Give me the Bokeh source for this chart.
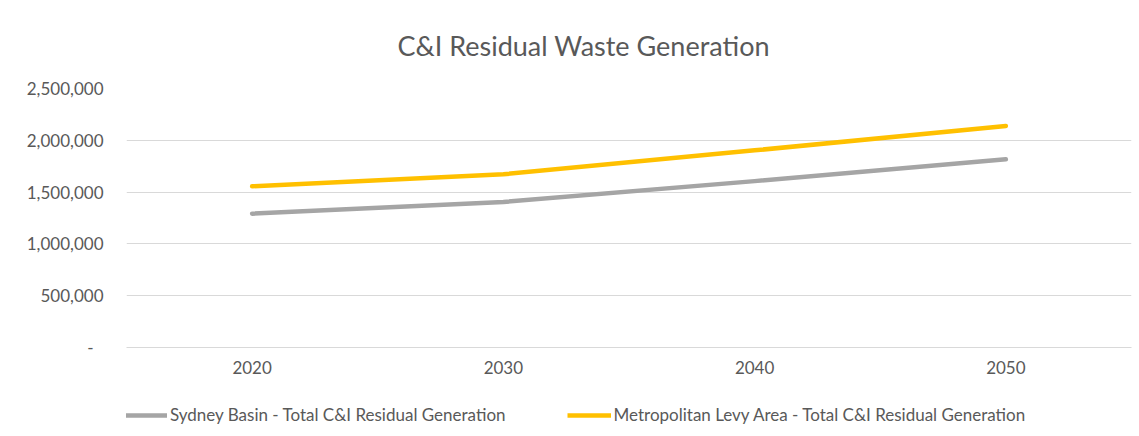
from bokeh.plotting import figure
from bokeh.layouts import column
from bokeh.models import Range1d, FactorRange, Legend, LegendItem, NumeralTickFormatter, ColumnDataSource
from bokeh.embed import file_html
from bokeh.resources import INLINE

years = ["2020", "2030", "2040", "2050"]
sydney_basin = [1292000, 1405000, 1606000, 1816000]
metro_levy = [1556000, 1672000, 1903000, 2139000]
y_ticks = [0, 500000, 1000000, 1500000, 2000000, 2500000]
title_text = "C&I Residual Waste Generation"
series_names = ["Sydney Basin - Total C&I Residual Generation",
                "Metropolitan Levy Area - Total C&I Residual Generation"]

FONT = "Lato"
TXT = "#595959"
GRID = "#D9D9D9"
C_SB = "#A5A5A5"
C_ML = "#FFC000"

src = ColumnDataSource(dict(year=years, sb=sydney_basin, ml=metro_levy))

p = figure(frame_width=1005, frame_height=259,
           x_range=FactorRange(factors=years, range_padding=0),
           y_range=Range1d(0, 2500000),
           output_backend="svg", toolbar_location=None,
           min_border_left=126, min_border_right=8,
           min_border_top=88, min_border_bottom=48)
p.outline_line_color = None
p.background_fill_color = "white"
p.border_fill_color = "white"

p.line("year", "sb", source=src, line_color=C_SB, line_width=4.5, line_cap="round", line_join="round")
p.line("year", "ml", source=src, line_color=C_ML, line_width=4.5, line_cap="round", line_join="round")

p.title.text = title_text
p.title.align = "left"
p.title.offset = 271
p.title.text_font = FONT
p.title.text_font_size = "27px"
p.title.text_font_style = "normal"
p.title.text_color = TXT
p.title.standoff = 53

p.xgrid.grid_line_color = None
p.ygrid.grid_line_color = GRID
p.ygrid.grid_line_width = 1
p.yaxis.ticker = y_ticks
p.yaxis.formatter = NumeralTickFormatter(format="0,0")
p.yaxis.major_label_overrides = {0: "-\u2007"}
p.yaxis.axis_line_color = None
p.yaxis.major_tick_line_color = None
p.yaxis.minor_tick_line_color = None
p.yaxis.major_label_standoff = 17
p.yaxis.major_label_text_font = FONT
p.yaxis.major_label_text_font_size = "17px"
p.yaxis.major_label_text_color = TXT

p.xaxis.axis_line_color = GRID
p.xaxis.major_tick_line_color = None
p.xaxis.minor_tick_line_color = None
p.xaxis.major_label_standoff = 7
p.xaxis.major_label_text_font = FONT
p.xaxis.major_label_text_font_size = "17px"
p.xaxis.major_label_text_color = TXT

# legend strip below the chart (same series, out of view, used only for legend glyphs)
lg = figure(width=1139, height=41,
            x_range=FactorRange(factors=years, range_padding=0),
            y_range=Range1d(-2, -1),
            output_backend="svg", toolbar_location=None,
            x_axis_location=None, y_axis_location=None,
            min_border_left=0, min_border_right=0, min_border_top=0, min_border_bottom=0)
lg.outline_line_color = None
lg.grid.grid_line_color = None
lg.background_fill_color = "white"
lg.border_fill_color = "white"
l1 = lg.line("year", "sb", source=src, line_color=C_SB, line_width=4.5)
l2 = lg.line("year", "ml", source=src, line_color=C_ML, line_width=4.5)

legend = Legend(items=[LegendItem(label=series_names[0], renderers=[l1]),
                       LegendItem(label=series_names[1], renderers=[l2])],
                orientation="horizontal", location=(-3, 11),
                spacing=61, glyph_width=44, glyph_height=20, label_height=20,
                label_standoff=3, padding=0, margin=0,
                border_line_color=None, background_fill_alpha=0,
                label_text_font=FONT, label_text_font_size="17px", label_text_color=TXT)
lg.add_layout(legend, "center")

layout = column(p, lg, spacing=0)
open("out.html", "w").write(file_html(layout, INLINE))
